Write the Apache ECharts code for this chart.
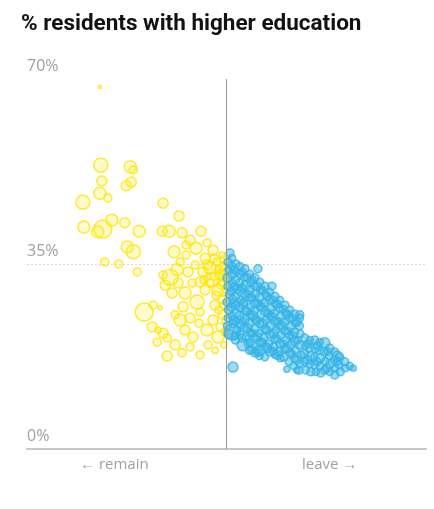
<!DOCTYPE html>
<html>
<head>
<meta charset="utf-8">
<script src="https://cdn.jsdelivr.net/npm/echarts@6/dist/echarts.min.js"></script>
<style>
  html, body { margin: 0; padding: 0; background: #fff; }
  #chart { width: 434px; height: 509px; }
</style>
</head>
<body>
<div id="chart"></div>
<script>
// each area: [leave vote %, % residents with higher education, electorate (thousands)]
const remainAreas = [
  [24.6, 68.5, 6],
  [24.8, 53.7, 400], [30.7, 53.4, 294], [31.3, 52.8, 131], [25.0, 50.7, 204],
  [30.9, 50.5, 204], [29.9, 49.8, 204], [24.6, 48.4, 294], [26.2, 47.5, 131],
  [21.2, 46.7, 400], [37.3, 46.5, 204], [40.5, 44.1, 204], [21.4, 42.0, 294],
  [25.2, 41.6, 661], [24.2, 41.1, 294], [27.0, 43.3, 294], [29.6, 42.8, 204],
  [32.5, 41.2, 294], [37.1, 41.2, 204], [38.5, 41.2, 294], [41.1, 40.9, 204],
  [44.9, 41.2, 204], [30.1, 38.2, 294], [31.3, 37.3, 400], [25.6, 35.4, 131],
  [28.4, 35.0, 131], [32.1, 33.5, 131], [39.5, 37.3, 294], [46.1, 39.0, 131],
  [47.3, 37.6, 204], [42.7, 39.5, 204], [43.9, 38.0, 294], [41.9, 36.7, 131],
  [45.7, 36.1, 204], [48.1, 35.4, 131], [46.7, 34.2, 294], [49.1, 34.6, 131],
  [48.7, 32.9, 204], [47.1, 32.0, 400], [45.3, 33.5, 204], [43.7, 34.8, 131],
  [42.3, 33.5, 204], [40.7, 35.4, 131], [38.7, 32.5, 522], [37.3, 32.9, 131],
  [40.3, 31.4, 204], [37.7, 31.0, 204], [39.1, 29.5, 204], [41.7, 29.5, 294],
  [44.1, 27.8, 400], [41.3, 26.9, 204], [45.7, 30.1, 204], [46.7, 31.4, 131],
  [48.3, 30.1, 294], [49.1, 28.2, 131], [47.7, 27.2, 204], [33.5, 25.9, 661],
  [35.3, 27.2, 131], [36.7, 26.7, 33], [35.1, 23.1, 204], [37.3, 21.9, 204],
  [36.1, 20.2, 131], [38.1, 21.0, 131], [38.1, 17.6, 204], [41.1, 18.2, 131],
  [40.7, 24.4, 294], [41.7, 22.5, 204], [44.5, 23.8, 131], [46.1, 22.5, 294],
  [47.3, 24.4, 204], [43.3, 21.2, 204], [42.7, 19.3, 131], [48.7, 23.1, 131],
  [48.3, 21.2, 294], [49.3, 25.4, 204], [44.7, 25.9, 131], [39.7, 25.4, 131],
  [42.7, 24.8, 204], [46.3, 19.7, 131], [39.7, 19.7, 204], [49.5, 31.4, 204],
  [47.5, 36.1, 131], [44.7, 31.6, 204], [40.1, 33.9, 294], [43.1, 31.4, 131],
  [41.9, 38.6, 131], [36.3, 22.5, 73], [44.7, 17.8, 131], [49.5, 19.7, 73],
  [47.7, 18.7, 73], [49.5, 35.8, 131], [49.7, 33.9, 204], [48.9, 31.0, 131],
  [49.7, 29.7, 131], [48.5, 33.9, 131], [49.5, 27.2, 131], [49.9, 24.4, 131],
  [49.7, 22.1, 131], [49.1, 36.7, 73], [47.9, 29.1, 131], [48.5, 26.3, 131],
  [49.7, 32.4, 131], [46.1, 34.8, 204], [47.7, 32.9, 204], [45.5, 32.0, 131]
];

const leaveAreas = [
  [50.3, 35.4, 131], [50.4, 33.9, 110], [50.2, 32.4, 160], [50.3, 30.8, 131], [50.5, 29.3, 110],
  [50.2, 27.8, 160], [50.4, 26.3, 131], [50.3, 24.8, 110], [50.2, 23.3, 131], [50.4, 21.8, 160],
  [51.1, 36.1, 110], [51.0, 34.6, 131], [51.2, 33.1, 160], [51.1, 31.4, 110], [50.9, 29.9, 131],
  [51.2, 28.4, 131], [51.0, 26.9, 160], [51.1, 25.2, 110], [51.3, 23.7, 131], [51.1, 22.1, 522],
  [51.9, 35.0, 131], [52.0, 33.5, 110], [51.8, 32.0, 131], [52.1, 30.3, 160], [51.9, 28.8, 110],
  [51.8, 27.2, 131], [52.0, 25.7, 160], [51.9, 24.2, 110], [52.1, 22.5, 131], [51.8, 20.6, 131],
  [52.7, 34.6, 110], [52.8, 33.1, 131], [52.6, 31.4, 131], [52.7, 29.9, 160], [52.9, 28.2, 110],
  [52.7, 26.7, 131], [52.6, 25.2, 160], [52.8, 23.5, 131], [52.7, 21.8, 110], [53.3, 19.7, 294],
  [53.7, 34.1, 131], [53.6, 32.5, 110], [53.8, 31.0, 160], [53.7, 29.3, 131], [53.5, 27.8, 131],
  [53.8, 26.1, 110], [53.7, 24.6, 160], [53.6, 22.9, 131], [53.9, 21.2, 110],
  [54.7, 33.1, 110], [54.8, 31.6, 131], [54.6, 30.1, 160], [54.7, 28.6, 131], [54.9, 26.9, 110],
  [54.7, 25.4, 131], [54.5, 23.7, 160], [54.8, 21.9, 131], [54.7, 20.2, 110], [54.6, 18.7, 131],
  [55.7, 32.4, 131], [55.6, 30.8, 110], [55.8, 29.3, 131], [55.7, 27.6, 160], [55.5, 26.1, 131],
  [55.8, 24.4, 110], [55.7, 22.7, 131], [55.6, 21.0, 160], [55.9, 19.3, 110], [55.7, 18.2, 131],
  [56.7, 31.6, 110], [56.8, 30.1, 131], [56.6, 28.6, 160], [56.7, 26.9, 110], [56.9, 25.4, 131],
  [56.7, 23.7, 131], [56.5, 21.9, 110], [56.8, 20.2, 160], [56.7, 18.7, 204], [56.6, 17.6, 110],
  [57.7, 30.8, 131], [57.8, 29.3, 110], [57.6, 27.6, 131], [57.7, 26.1, 160], [57.9, 24.4, 110],
  [57.7, 22.7, 131], [57.5, 21.0, 131], [57.8, 19.3, 160], [57.7, 17.4, 110],
  [58.7, 29.7, 110], [58.6, 28.2, 131], [58.8, 26.5, 160], [58.7, 25.0, 110], [58.9, 23.3, 131],
  [58.7, 21.6, 131], [58.5, 19.9, 110], [58.8, 18.4, 160],
  [59.7, 28.9, 131], [59.8, 27.4, 110], [59.6, 25.7, 131], [59.7, 24.2, 160], [59.9, 22.5, 110],
  [59.7, 20.8, 131], [59.5, 19.3, 131], [59.8, 17.8, 110],
  [60.7, 28.2, 110], [60.6, 26.7, 131], [60.8, 25.0, 160], [60.7, 23.3, 131], [60.9, 21.6, 110],
  [60.7, 19.9, 131], [60.5, 18.4, 160], [60.8, 17.2, 110],
  [61.7, 27.2, 131], [61.8, 25.7, 110], [61.6, 24.0, 160], [61.7, 22.3, 131], [61.9, 20.6, 110],
  [61.7, 18.9, 131], [61.5, 17.4, 131],
  [62.7, 26.3, 110], [62.6, 24.8, 131], [62.8, 23.1, 160], [62.7, 21.4, 110], [62.9, 19.7, 131],
  [62.7, 18.2, 131], [62.5, 16.5, 110],
  [63.7, 25.5, 131], [63.8, 23.8, 110], [63.6, 22.1, 131], [63.7, 20.4, 160], [63.9, 18.7, 110],
  [63.7, 17.2, 131], [63.5, 15.7, 110],
  [64.7, 24.8, 110], [64.6, 23.3, 131], [64.8, 21.8, 110], [64.7, 19.7, 160], [64.9, 17.8, 131],
  [64.7, 16.1, 110], [64.5, 14.9, 131],
  [65.7, 21.0, 131], [65.8, 19.5, 110], [65.6, 18.0, 160], [65.7, 16.5, 131], [65.9, 14.9, 110],
  [66.7, 20.6, 110], [66.6, 19.1, 131], [66.8, 17.6, 160], [66.7, 16.1, 110], [66.9, 14.6, 131],
  [67.7, 20.6, 131], [67.8, 19.1, 160], [67.6, 17.4, 110], [67.7, 15.9, 131], [67.9, 14.6, 110],
  [68.7, 20.2, 110], [68.6, 18.7, 131], [68.8, 17.2, 160], [68.7, 15.7, 110], [68.9, 14.4, 131],
  [69.7, 20.1, 204], [69.6, 18.4, 131], [69.8, 16.6, 110], [69.7, 14.9, 131],
  [70.7, 19.1, 131], [70.6, 17.6, 110], [70.8, 16.1, 160], [70.7, 14.6, 110],
  [71.7, 18.4, 110], [71.6, 16.8, 131], [71.8, 15.3, 110], [71.7, 14.0, 131],
  [72.7, 17.4, 131], [72.6, 15.9, 110], [72.8, 14.6, 131],
  [73.7, 16.5, 131], [73.8, 15.3, 110],
  [74.7, 15.7, 110],
  [50.7, 37.1, 131], [56.3, 34.1, 131], [59.1, 30.8, 131], [51.3, 15.5, 204], [62.1, 15.1, 73],
  [64.1, 14.9, 73], [75.4, 15.3, 73], [72.2, 17.6, 204], [64.7, 25.4, 131],
  // the crowded core between the rows above
  [51.5, 33.9, 131], [51.6, 30.6, 110], [51.4, 27.6, 131], [51.5, 24.4, 160], [51.6, 21.4, 110],
  [53.2, 33.5, 110], [53.1, 30.5, 131], [53.3, 27.4, 160], [53.2, 24.2, 110], [53.1, 21.0, 131],
  [54.2, 32.4, 131], [54.3, 29.3, 110], [54.1, 26.1, 131], [54.2, 22.9, 160], [54.3, 19.9, 110],
  [55.2, 32.0, 110], [55.1, 28.6, 131], [55.3, 25.2, 160], [55.2, 21.9, 110], [55.1, 18.7, 131],
  [56.2, 30.8, 131], [56.3, 27.6, 110], [56.1, 24.4, 131], [56.2, 21.2, 160], [56.3, 18.2, 110],
  [57.2, 30.1, 110], [57.1, 26.9, 131], [57.3, 23.7, 160], [57.2, 20.2, 110],
  [58.2, 28.9, 131], [58.3, 25.7, 110], [58.1, 22.5, 131], [58.2, 19.1, 160],
  [59.3, 28.2, 110], [59.2, 25.0, 131], [59.4, 21.8, 160], [59.3, 18.5, 110],
  [60.2, 27.4, 131], [60.3, 24.2, 110], [60.1, 20.8, 131], [60.2, 17.8, 160],
  [61.3, 26.5, 110], [61.2, 23.3, 131], [61.4, 19.9, 110],
  [62.2, 25.5, 131], [62.3, 22.3, 110], [62.1, 19.1, 160],
  [63.2, 24.8, 110], [63.3, 21.4, 131], [63.1, 18.0, 110],
  [64.2, 24.0, 131], [64.3, 20.6, 110], [64.1, 16.8, 131],
  [66.3, 19.9, 110], [66.2, 16.8, 131],
  [68.3, 19.5, 131], [68.2, 16.5, 110],
  [70.3, 18.4, 110], [70.2, 15.3, 131],
  [72.3, 16.6, 110]
];

const yTicks = [0, 35, 70];
const sideLabels = ['← remain', 'leave →'];

const chart = echarts.init(document.getElementById('chart'));

const bubbleSize = (v) => Math.max(3, Math.sqrt(v[2]) * 0.7);

chart.setOption({
  animation: false,
  title: {
    text: '% residents with higher education',
    left: 16,
    top: 8,
    textStyle: {
      fontFamily: 'Roboto',
      fontSize: 22.5,
      fontWeight: 'bold',
      color: '#121212',
    },
  },
  grid: { left: 27, right: 8, top: 79, bottom: 60 },
  xAxis: {
    type: 'value',
    min: 10,
    max: 90,
    axisLine: { show: true, lineStyle: { color: '#c8c8c8', width: 2 } },
    axisTick: { show: false },
    axisLabel: { show: false },
    splitLine: { show: false },
  },
  yAxis: {
    type: 'value',
    min: yTicks[0],
    max: yTicks[2],
    interval: 35,
    axisLine: { show: false },
    axisTick: { show: false },
    axisLabel: {
      inside: true,
      verticalAlign: 'bottom',
      margin: 0,
      padding: [0, 0, 5, 0],
      color: '#a0a0a0',
      fontFamily: 'Open Sans',
      fontSize: 16,
      formatter: (v) => v + '%',
    },
    splitLine: {
      show: true,
      lineStyle: { color: ['transparent', '#d8d8d8', 'transparent'], type: [2, 2], width: 1 },
    },
  },
  graphic: [
    {
      type: 'text', left: 80, top: 457,
      style: { text: sideLabels[0], fill: '#a0a0a0', font: '15px "Open Sans"' },
    },
    {
      type: 'text', left: 302, top: 457,
      style: { text: sideLabels[1], fill: '#a0a0a0', font: '15px "Open Sans"' },
    },
  ],
  series: [
    {
      name: 'remain',
      type: 'scatter',
      data: remainAreas,
      symbolSize: bubbleSize,
      itemStyle: {
        color: 'rgba(255, 232, 0, 0.25)',
        borderColor: '#ffe500',
        borderWidth: 1.5,
      },
      markLine: {
        silent: true,
        symbol: 'none',
        label: { show: false },
        lineStyle: { color: '#999', width: 1, type: 'solid' },
        data: [{ xAxis: 50 }],
      },
    },
    {
      name: 'leave',
      type: 'scatter',
      data: leaveAreas,
      symbolSize: bubbleSize,
      itemStyle: {
        color: 'rgba(52, 180, 230, 0.6)',
        borderColor: '#36b4e6',
        borderWidth: 1.5,
      },
    },
  ],
});
</script>
</body>
</html>
